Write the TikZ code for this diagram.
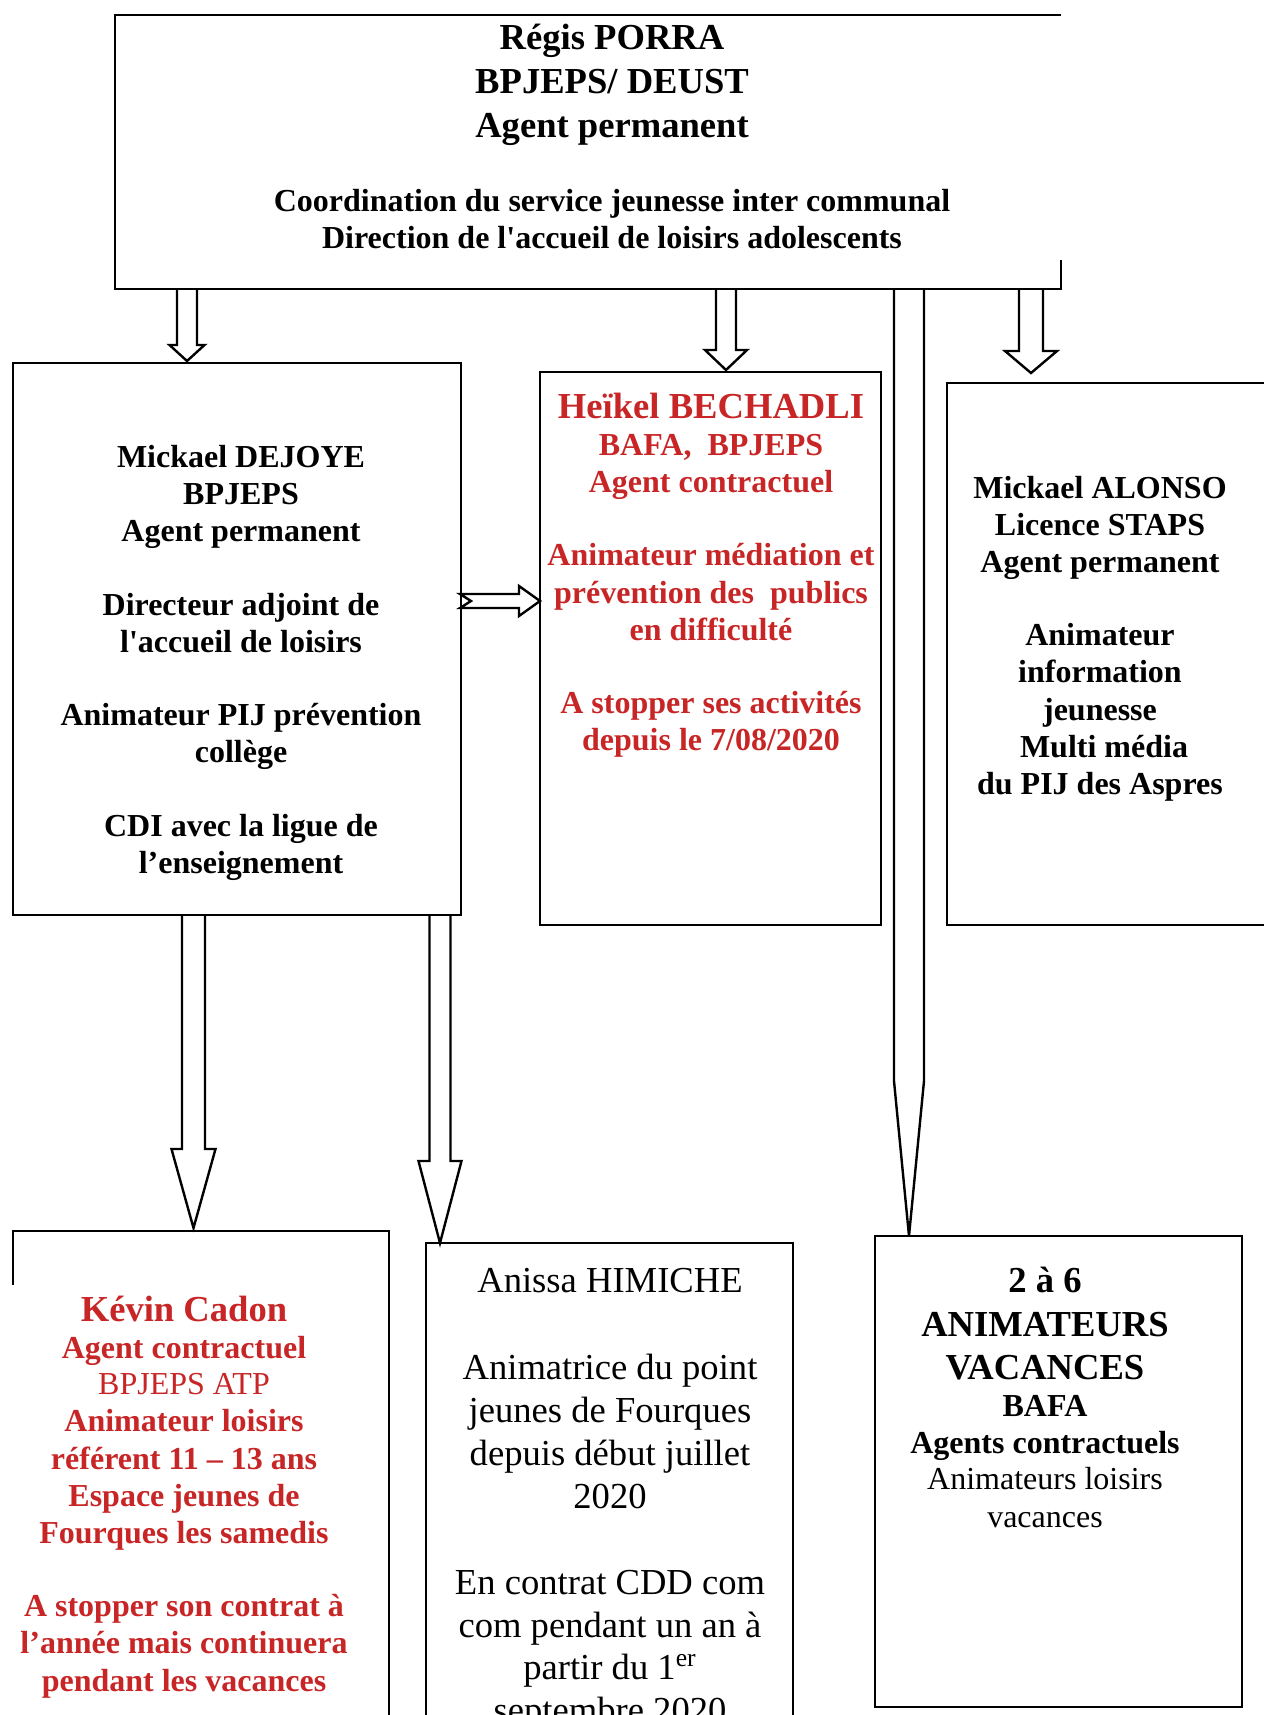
\documentclass[tikz,border=0pt]{standalone}
\usepackage{fontspec}
\setmainfont{Liberation Serif}
\newfontfamily\qfont{Liberation Serif}[Ligatures=TeXOff]
\usetikzlibrary{calc}
\definecolor{redtxt}{RGB}{200,38,38}
\tikzset{
  boxline/.style={line width=1.25pt, line join=miter},
  thinline/.style={line width=0.7pt},
  frame/.style={rectangle, inner sep=0pt, outer sep=0pt, boxline},
  blk/.style={line width=1.2pt, line join=miter},
  bigb/.style={font=\fontsize{18.3}{22}\selectfont\bfseries, inner sep=0pt, anchor=base},
  medb/.style={font=\fontsize{16}{19}\selectfont\bfseries, inner sep=0pt, anchor=base},
  bigr/.style={font=\fontsize{18.3}{22}\selectfont, inner sep=0pt, anchor=base},
  medr/.style={font=\fontsize{16}{19}\selectfont, inner sep=0pt, anchor=base},
  rd/.style={text=redtxt},
}
\newcommand\frm[6]{\node[frame,#6,minimum width={(#4-#2)*0.5pt},minimum height={(#5-#3)*0.5pt},anchor=north west] (#1) at (#2,#3) {};}
\newcommand\txt[5]{\node[#4] (#1) at (#2,#3) {#5};}
\newcommand\vblock[5]{\draw[blk] ($(#1)+(-#3,0)$) -- ($(#2)+(-#3,-#5)$) -- ($(#2)+(-#4,-#5)$) -- (#2) -- ($(#2)+(#4,-#5)$) -- ($(#2)+(#3,-#5)$) -- ($(#1)+(#3,0)$);}
\newcommand\sq{{\qfont'}}
\begin{document}
\begin{tikzpicture}[x=0.5pt,y=-0.5pt]
\useasboundingbox (0,0) rectangle (1264,1715);
\clip (0,0) rectangle (1264,1715);
\fill[white] (0,0) rectangle (1264,1715);
% frames
\frm{top}{115}{15}{1061}{289}{draw=none}
\draw[boxline] ($(top.north east)+(0,245)$) -- (top.south east) -- (top.south west) -- (top.north west) -- ($(top.north west)+(30,0)$);
\draw[thinline] ($(top.north west)+(30,0)$) -- (top.north east);
\frm{dej}{13}{363}{461}{915}{draw=none}
\draw[boxline] ($(dej.south west)+(30,0)$) -- (dej.south west) -- (dej.north west) -- (dej.north east) -- (dej.south east) -- ($(dej.south east)+(-30,0)$);
\draw[thinline] ($(dej.south west)+(30,0)$) -- ($(dej.south east)+(-30,0)$);
\frm{bech}{540}{372}{881}{925}{draw=none}
\draw[boxline] ($(bech.north east)+(0,11)$) -- (bech.north east) -- (bech.north west) -- (bech.south west) -- (bech.south east) -- ($(bech.south east)+(0,-20)$);
\draw[thinline] ($(bech.north east)+(0,11)$) -- ($(bech.south east)+(0,-20)$);
\frm{alon}{947}{383}{1300}{925}{draw}
\frm{kev}{13}{1231}{389}{1780}{draw=none}
\draw[boxline] ($(kev.north west)+(0,54)$) -- (kev.north west) -- (kev.north east) -- ($(kev.north east)+(0,20)$);
\draw[thinline] ($(kev.north east)+(0,20)$) -- (kev.south east);
\frm{anis}{426}{1243}{793}{1780}{draw}
\frm{anim}{875}{1236}{1242}{1707}{draw=none}
\draw[boxline] ($(anim.south west)+(10,0)$) -- (anim.south west) -- (anim.north west) -- (anim.north east) -- (anim.south east) -- ($(anim.south east)+(-37,0)$);
\draw[thinline] ($(anim.south west)+(10,0)$) -- ($(anim.south east)+(-37,0)$);
% texts: top box
\txt{t1}{612}{49}{bigb}{Régis PORRA}
\txt{t2}{612}{93}{bigb}{BPJEPS/ DEUST}
\txt{t3}{612}{137}{bigb}{Agent permanent}
\txt{t4}{612}{211}{medb}{Coordination du service jeunesse inter communal}
\txt{t5}{612}{248}{medb}{Direction de l\sq accueil de loisirs adolescents}
% DEJOYE
\txt{d1}{241}{467}{medb}{Mickael DEJOYE}
\txt{d2}{241}{504}{medb}{BPJEPS}
\txt{d3}{241}{541}{medb}{Agent permanent}
\txt{d4}{241}{615}{medb}{Directeur adjoint de}
\txt{d5}{241}{652}{medb}{l\sq accueil de loisirs}
\txt{d6}{241}{725}{medb}{Animateur PIJ prévention}
\txt{d7}{241}{762}{medb}{collège}
\txt{d8}{241}{836}{medb}{CDI avec la ligue de}
\txt{d9}{241}{873}{medb}{l’enseignement}
% BECHADLI
\txt{b1}{711}{418}{bigb,rd}{Heïkel BECHADLI}
\txt{b2}{711}{455}{medb,rd}{BAFA,\ \ BPJEPS}
\txt{b3}{711}{492}{medb,rd}{Agent contractuel}
\txt{b4}{711}{565}{medb,rd}{Animateur médiation et}
\txt{b5}{711}{603}{medb,rd}{prévention des\ \ publics}
\txt{b6}{711}{640}{medb,rd}{en difficulté}
\txt{b7}{711}{713}{medb,rd}{A stopper ses activités}
\txt{b8}{711}{750}{medb,rd}{depuis le 7/08/2020}
% ALONSO
\txt{l1}{1100}{498}{medb}{Mickael ALONSO}
\txt{l2}{1100}{535}{medb}{Licence STAPS}
\txt{l3}{1100}{572}{medb}{Agent permanent}
\txt{l4}{1100}{645}{medb}{Animateur}
\txt{l5}{1100}{682}{medb}{information}
\txt{l6}{1100}{720}{medb}{jeunesse}
\txt{l7}{1104}{757}{medb}{Multi média}
\txt{l8}{1100}{794}{medb}{du PIJ des Aspres}
% Kevin
\txt{k1}{184}{1321}{bigb,rd}{Kévin Cadon}
\txt{k2}{184}{1358}{medb,rd}{Agent contractuel}
\txt{k3}{184}{1394}{medr,rd}{BPJEPS ATP}
\txt{k4}{184}{1431}{medb,rd}{Animateur loisirs}
\txt{k5}{184}{1469}{medb,rd}{référent 11 – 13 ans}
\txt{k6}{184}{1506}{medb,rd}{Espace jeunes de}
\txt{k7}{184}{1543}{medb,rd}{Fourques les samedis}
\txt{k8}{184}{1616}{medb,rd}{A stopper son contrat à}
\txt{k9}{184}{1653}{medb,rd}{l’année mais continuera}
\txt{k10}{184}{1691}{medb,rd}{pendant les vacances}
% Anissa
\txt{n1}{610}{1292}{bigr}{Anissa HIMICHE}
\txt{n2}{610}{1379}{bigr}{Animatrice du point}
\txt{n3}{610}{1422}{bigr}{jeunes de Fourques}
\txt{n4}{610}{1465}{bigr}{depuis début juillet}
\txt{n5}{610}{1508}{bigr}{2020}
\txt{n6}{610}{1594}{bigr}{En contrat CDD com}
\txt{n7}{610}{1637}{bigr}{com pendant un an à}
\txt{n8}{610}{1679}{bigr}{partir du 1\textsuperscript{er}}
\txt{n9}{610}{1722}{bigr}{septembre 2020}
% Animateurs
\txt{m1}{1045}{1292}{bigb}{2 à 6}
\txt{m2}{1045}{1336}{bigb}{ANIMATEURS}
\txt{m3}{1045}{1379}{bigb}{VACANCES}
\txt{m4}{1045}{1416}{medb}{BAFA}
\txt{m5}{1045}{1453}{medb}{Agents contractuels}
\txt{m6}{1045}{1489}{medr}{Animateurs loisirs}
\txt{m7}{1045}{1527}{medr}{vacances}
% arrows
\coordinate (a1s) at ($(top.south west)+(72,0)$);
\coordinate (a1t) at ($(a1s |- dej.north)+(0,-2)$);
\vblock{a1s}{a1t}{10}{17.5}{16}
\coordinate (a2s) at ($(top.south west)+(611,0)$);
\coordinate (a2t) at ($(a2s |- bech.north)+(0,-2)$);
\vblock{a2s}{a2t}{10}{21}{20}
\coordinate (a3s) at ($(top.south west)+(794,0)$);
\coordinate (a3t) at (a3s |- anim.north);
\vblock{a3s}{a3t}{15}{15}{155}
\coordinate (a4s) at ($(top.south west)+(916,0)$);
\coordinate (a4t) at ($(a4s |- alon.north)+(0,-10)$);
\vblock{a4s}{a4t}{12}{26}{22}
\coordinate (a5s) at ($(dej.north east)+(-1,238)$);
\coordinate (a5t) at (a5s -| bech.west);
\draw[blk] ($(a5s)+(0,-7)$) -- ($(a5t)+(-21,-7)$) -- ($(a5t)+(-21,-15)$) -- (a5t) -- ($(a5t)+(-21,15)$) -- ($(a5t)+(-21,7)$) -- ($(a5s)+(0,7)$) -- ($(a5s)+(11,0)$) -- cycle;
\coordinate (a6s) at ($(dej.south west)+(180.5,0)$);
\coordinate (a6t) at ($(a6s |- kev.north)+(0,-3)$);
\vblock{a6s}{a6t}{11.5}{22}{79}
\coordinate (a7s) at ($(dej.south west)+(427,0)$);
\coordinate (a7t) at (a7s |- anis.north);
\vblock{a7s}{a7t}{10.5}{21.5}{82}
\end{tikzpicture}
\end{document}
